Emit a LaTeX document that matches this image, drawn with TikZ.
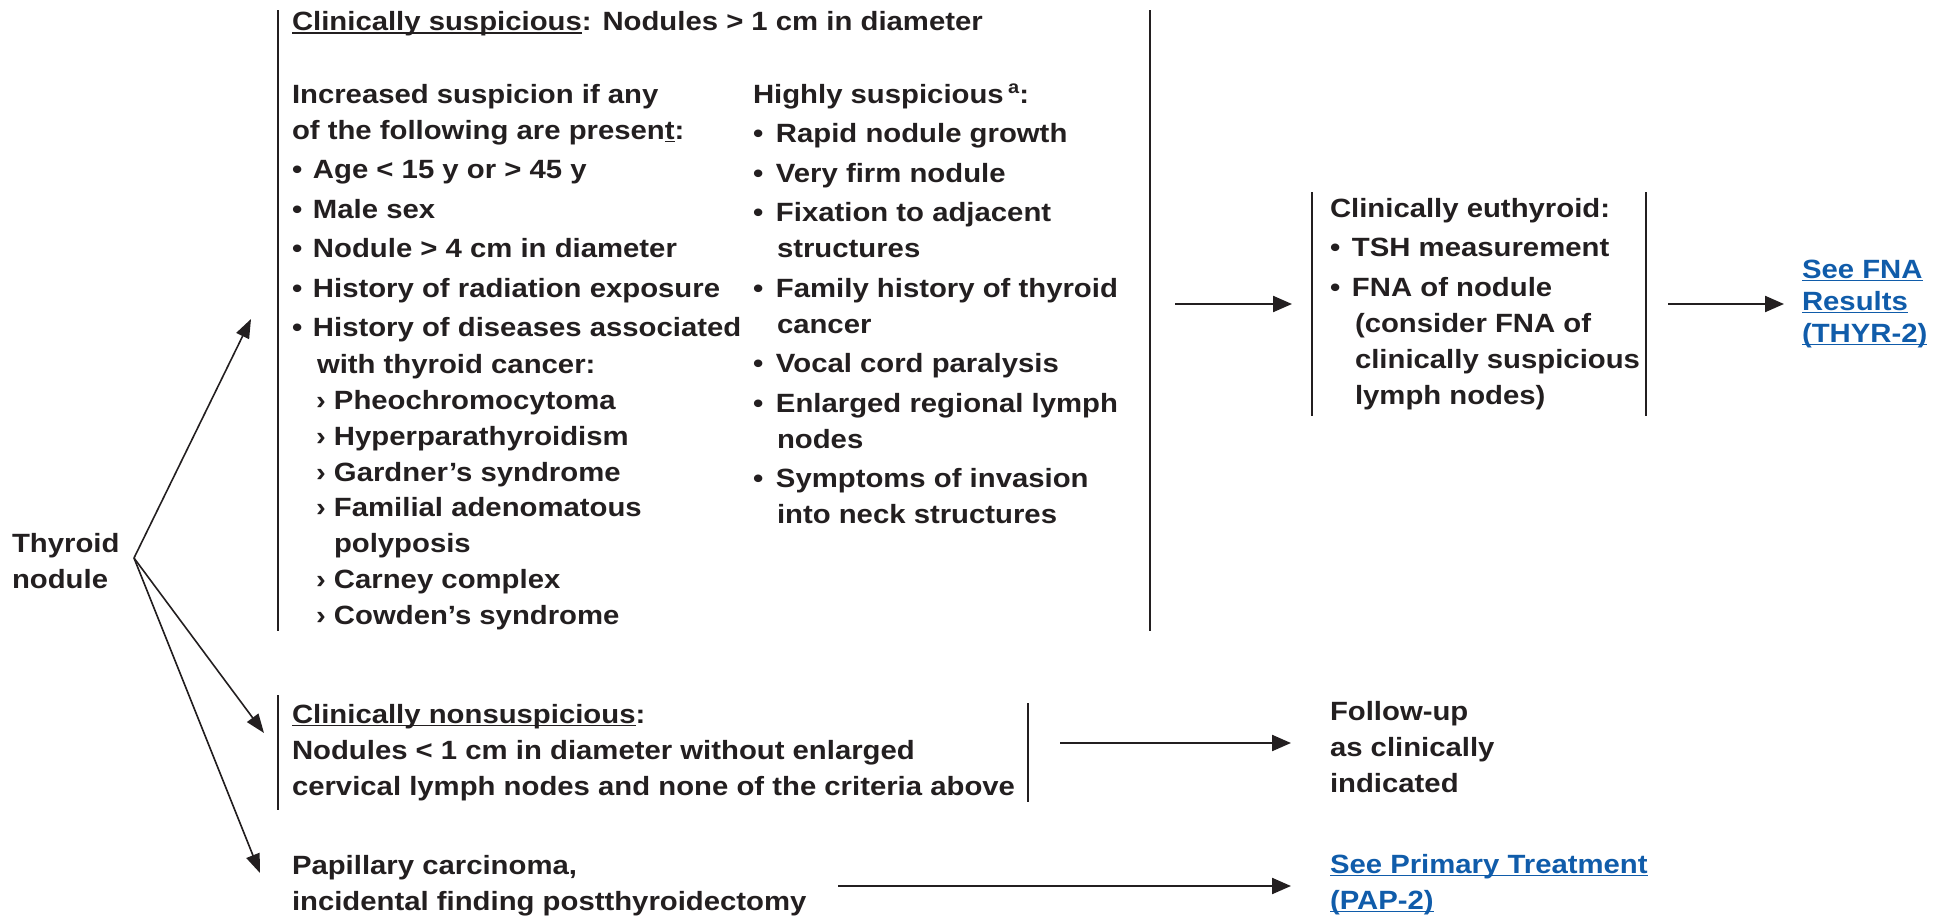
\documentclass[tikz,border=0pt]{standalone}
\usepackage{fontspec}
\setmainfont{Liberation Sans}[FakeStretch=1.11]
\usetikzlibrary{arrows.meta}

\definecolor{ink}{RGB}{35,31,32}
\definecolor{linkblue}{RGB}{16,92,170}

% underline sitting just below the baseline
\newcommand\uln[1]{\setbox0\hbox{#1}\rlap{\rule[-1.6pt]{\wd0}{0.8pt}}\box0}
% left-aligned block whose baseline is the first line
\newcommand\blk[1]{\begin{tabular}[t]{@{}l@{}}#1\end{tabular}}
% bullets and sub-bullets
\newcommand\itm[1]{\makebox[#1][l]{\textbullet}}
\newcommand\sub{\hspace*{12pt}\makebox[9pt][l]{›}}

\tikzset{
  txt/.style={anchor=base west, inner sep=0pt, outer sep=0pt,
    font=\bfseries\fontsize{13.2}{18}\selectfont, text=ink},
  link/.style={txt, text=linkblue},
  frame/.style={anchor=north west, inner sep=0pt, outer sep=0pt, draw=none},
  bar/.style={draw=ink, line width=1.1pt},
  arr/.style={draw=ink, line width=1.1pt, -{Triangle[length=9.5pt,width=8pt]}},
  fan/.style={draw=ink, line width=0.8pt, -{Triangle[length=9.5pt,width=7pt]}},
}

\begin{document}
\begin{tikzpicture}[x=0.5pt, y=-0.5pt]
\useasboundingbox (0,0) rectangle (1940,916);

% ---- root
\node[txt] (nodule) at (12,552) {\blk{Thyroid\\ nodule}};
\coordinate (fork) at (134,558);

% ---- clinically suspicious
\node[frame, minimum width=436pt, minimum height=310.5pt] (susp) at (278,10) {};
\draw[bar] (susp.north west) -- (susp.south west);
\draw[bar] (susp.north east) -- (susp.south east);

\node[txt] (susptitle) at (292,30.5)
  {\uln{Clinically suspicious}: Nodules > 1 cm in diameter};

\node[txt] (incr) at (292,103) {\blk{%
  Increased suspicion if any\\
  of the following are presen\uln{t}:\\[1.75pt]
  \itm{10.5pt}Age < 15 y or > 45 y\\[1.75pt]
  \itm{10.5pt}Male sex\\[1.75pt]
  \itm{10.5pt}Nodule > 4 cm in diameter\\[1.75pt]
  \itm{10.5pt}History of radiation exposure\\[1.75pt]
  \itm{10.5pt}History of diseases associated\\[0.25pt]
  \hspace*{12.5pt}with thyroid cancer:\\[0.25pt]
  \sub Pheochromocytoma\\[-0.1pt]
  \sub Hyperparathyroidism\\[-0.1pt]
  \sub Gardner’s syndrome\\[-0.1pt]
  \sub Familial adenomatous\\[-0.1pt]
  \hspace*{21pt}polyposis\\[-0.1pt]
  \sub Carney complex\\[-0.1pt]
  \sub Cowden’s syndrome}};

\node[txt] (high) at (753,103) {\blk{%
  Highly suspicious\,\raisebox{5pt}{\fontsize{9}{9}\selectfont a}:\\[1.75pt]
  \itm{11.5pt}Rapid nodule growth\\[1.75pt]
  \itm{11.5pt}Very firm nodule\\[1.75pt]
  \itm{11.5pt}Fixation to adjacent\\
  \hspace*{12pt}structures\\[1.75pt]
  \itm{11.5pt}Family history of thyroid\\
  \hspace*{12pt}cancer\\[1.75pt]
  \itm{11.5pt}Vocal cord paralysis\\[1.75pt]
  \itm{11.5pt}Enlarged regional lymph\\
  \hspace*{12pt}nodes\\[1.75pt]
  \itm{11.5pt}Symptoms of invasion\\
  \hspace*{12pt}into neck structures}};

% ---- clinically euthyroid
\node[frame, minimum width=167pt, minimum height=112pt] (eu) at (1312,192) {};
\draw[bar] (eu.north west) -- (eu.south west);
\draw[bar] (eu.north east) -- (eu.south east);

\node[txt] (eutext) at (1330,217) {\blk{%
  Clinically euthyroid:\\[1.75pt]
  \itm{11pt}TSH measurement\\[1.75pt]
  \itm{11pt}FNA of nodule\\
  \hspace*{12.5pt}(consider FNA of\\
  \hspace*{12.5pt}clinically suspicious\\
  \hspace*{12.5pt}lymph nodes)}};

\node[link, font=\bfseries\fontsize{13.2}{16}\selectfont] (fna) at (1802,278)
  {\blk{\uln{See FNA}\\ \uln{Results}\\ \uln{(THYR-2)}}};

% ---- clinically nonsuspicious
\node[frame, minimum width=375pt, minimum height=57.5pt] (nons) at (278,695) {};
\draw[bar] (nons.north west) -- (nons.south west);
\draw[bar] ([yshift=-4pt]nons.north east) -- ([yshift=4pt]nons.south east);

\node[txt] (nonstext) at (292,723) {\blk{%
  \uln{Clinically nonsuspicious}:\\
  Nodules < 1 cm in diameter without enlarged\\
  cervical lymph nodes and none of the criteria above}};

\node[txt] (follow) at (1330,720) {\blk{Follow-up\\ as clinically\\ indicated}};

% ---- incidental papillary carcinoma
\node[txt] (pap) at (292,874) {\blk{Papillary carcinoma,\\ incidental finding postthyroidectomy}};
\node[link] (prim) at (1330,873) {\blk{\uln{See Primary Treatment}\\ \uln{(PAP-2)}}};

% ---- connector end points
\coordinate (t1) at (251,319);
\coordinate (t2) at (264,733);
\coordinate (t3) at (260,873);
\coordinate (s1) at (1175,304);
\coordinate (e1) at (1292,304);
\coordinate (s2) at (1668,304);
\coordinate (e2) at (1784,304);
\coordinate (s3) at (1060,743);
\coordinate (e3) at (1291,743);
\coordinate (s4) at (838,886);
\coordinate (e4) at (1291,886);

% ---- connectors
\draw[fan] (fork) -- (t1);
\draw[fan] (fork) -- (t2);
\draw[fan] (fork) -- (t3);
\draw[arr] (s1) -- (e1);
\draw[arr] (s2) -- (e2);
\draw[arr] (s3) -- (e3);
\draw[arr] (s4) -- (e4);
\end{tikzpicture}
\end{document}
